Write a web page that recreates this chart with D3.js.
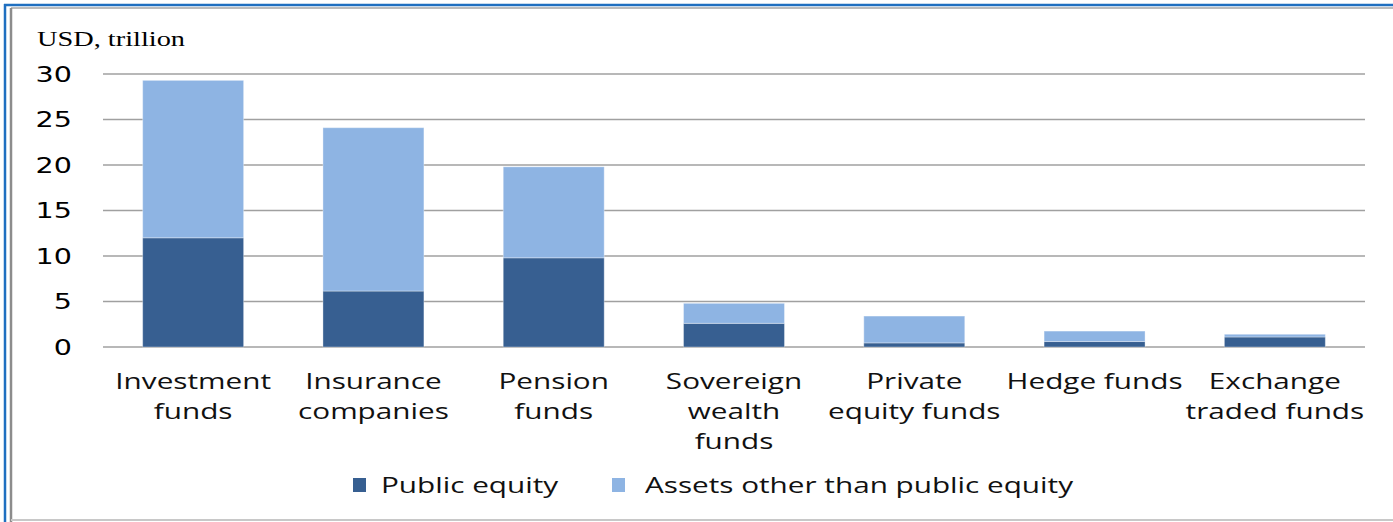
<!DOCTYPE html>
<html><head><meta charset="utf-8">
<script src="https://cdn.jsdelivr.net/npm/d3@7"></script>
<style>body{margin:0;background:#fff;} svg{display:block;}</style>
</head><body>
<svg id="c" width="1393" height="522"></svg>
<script>
const categories = [["Investment","funds"],["Insurance","companies"],["Pension","funds"],["Sovereign","wealth","funds"],["Private","equity funds"],["Hedge funds"],["Exchange","traded funds"]];
const publicEquity = [12.0, 6.15, 9.8, 2.6, 0.45, 0.6, 1.1];
const otherAssets = [17.3, 17.95, 10.0, 2.2, 2.95, 1.15, 0.3];
const yTicks = [0,5,10,15,20,25,30];
const seriesNames = ["Public equity","Assets other than public equity"];
const colors = ["#375f91","#8eb4e3"];
const SX = 1.35;

const svg = d3.select("#c");
svg.append("rect").attr("x",0).attr("y",0).attr("width",1393).attr("height",522).attr("fill","#fff");
svg.append("line").attr("x1",4).attr("x2",1393).attr("y1",5).attr("y2",5).attr("stroke","#1f6fc0").attr("stroke-width",2.5);
svg.append("line").attr("x1",5).attr("x2",5).attr("y1",4).attr("y2",522).attr("stroke","#1f6fc0").attr("stroke-width",2.5);
svg.append("line").attr("x1",11).attr("x2",1393).attr("y1",8).attr("y2",8).attr("stroke","#a6a6a6").attr("stroke-width",1.5);
svg.append("line").attr("x1",11).attr("x2",11).attr("y1",8).attr("y2",522).attr("stroke","#8c8c8c").attr("stroke-width",2.5);
svg.append("line").attr("x1",11).attr("x2",1393).attr("y1",520).attr("y2",520).attr("stroke","#c8c8c8").attr("stroke-width",2);

const x = d3.scaleBand().domain(d3.range(categories.length)).range([103,1365]).paddingInner(0.44).paddingOuter(0.22);
const y = d3.scaleLinear().domain([0,30]).range([347,74]);

svg.append("g").selectAll("line").data(yTicks).join("line")
  .attr("x1",103).attr("x2",1365).attr("y1",d=>y(d)).attr("y2",d=>y(d))
  .attr("stroke","#a0a0a0").attr("stroke-width",1.5);

svg.append("g").selectAll("text").data(yTicks).join("text")
  .attr("transform",d=>`translate(72,${y(d)}) scale(1.3,1)`)
  .attr("dy","0.36em").attr("text-anchor","end")
  .attr("font-family","DejaVu Sans").attr("font-size",22).attr("fill","#000")
  .text(d=>d);

svg.append("text").attr("transform",`translate(37,46) scale(${SX},1)`)
  .attr("font-family","Liberation Serif").attr("font-size",21).attr("fill","#000").text("USD, trillion");

const stackData = categories.map((c,i)=>({i, pe:publicEquity[i], oa:otherAssets[i]}));
const stack = d3.stack().keys(["pe","oa"])(stackData);
svg.append("g").selectAll("g").data(stack).join("g")
  .attr("fill",(d,k)=>colors[k])
  .selectAll("rect").data(d=>d).join("rect")
  .attr("x",d=>x(d.data.i)).attr("width",x.bandwidth())
  .attr("y",d=>y(d[1])).attr("height",d=>y(d[0])-y(d[1]))
  .attr("stroke","rgba(255,255,255,0.35)").attr("stroke-width",1);

const cat = svg.append("g").selectAll("text").data(categories).join("text")
  .attr("text-anchor","middle").attr("font-family","Open Sans").attr("font-size",22).attr("fill","#111")
  .attr("transform",(d,i)=>`translate(${x(i)+x.bandwidth()/2},389) scale(${SX},1)`);
cat.selectAll("tspan").data(d=>d).join("tspan").attr("x",0).attr("dy",(d,j)=>j===0?0:30).text(d=>d);

const leg = [{x:353,tx:381},{x:612,tx:645}];
seriesNames.forEach((n,k)=>{
  svg.append("rect").attr("x",leg[k].x).attr("y",478).attr("width",13).attr("height",14).attr("fill",colors[k]);
  svg.append("text").attr("transform",`translate(${leg[k].tx},493) scale(${SX},1)`)
    .attr("font-family","Open Sans").attr("font-size",22).attr("fill","#111").text(n);
});
</script>
</body></html>
